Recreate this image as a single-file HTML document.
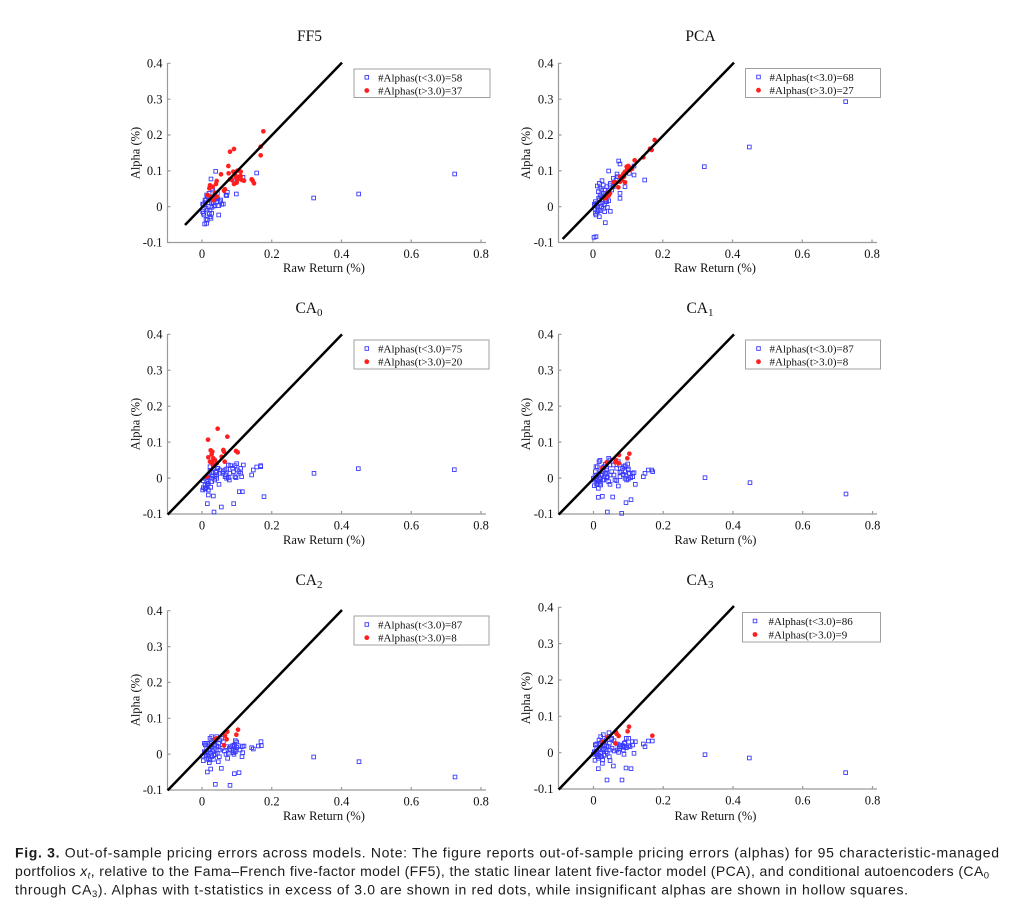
<!DOCTYPE html>
<html><head><meta charset="utf-8"><style>
html,body{margin:0;padding:0;background:#fff;}
svg{display:block;}
.t{font-family:"Liberation Serif",serif;fill:#111;}
.cap{font-family:"Liberation Sans",sans-serif;font-size:14px;fill:#1a1a1a;}
</style></head><body>
<svg width="1027" height="910" viewBox="0 0 1027 910" xmlns="http://www.w3.org/2000/svg">
<defs>
<rect id="q" x="-5.5" y="-5.5" width="11" height="11" fill="none" stroke="#3a3aff" stroke-width="2.7"/>
<circle id="d" r="7" fill="#ff1f1f"/>
</defs>
<rect width="1027" height="910" fill="#fff"/>

<!-- ============ PANEL 1 FF5 ============ -->
<g stroke="#9a9a9a" stroke-width="1.2" fill="none">
<path d="M167.5 63 V242.5 H486"/>
<path d="M167.5 63.3h3M167.5 99.2h3M167.5 135h3M167.5 170.9h3M167.5 206.7h3"/>
<path d="M202 242.5v-3M271.75 242.5v-3M341.5 242.5v-3M411.25 242.5v-3M481 242.5v-3"/>
</g>
<g class="t" font-size="12.5" text-anchor="end">
<text x="162.5" y="67.5">0.4</text><text x="162.5" y="103.4">0.3</text><text x="162.5" y="139.2">0.2</text><text x="162.5" y="175.1">0.1</text><text x="162.5" y="210.9">0</text><text x="162.5" y="246.7">-0.1</text>
</g>
<g class="t" font-size="12.5" text-anchor="middle">
<text x="202" y="258">0</text><text x="271.75" y="258">0.2</text><text x="341.5" y="258">0.4</text><text x="411.25" y="258">0.6</text><text x="481" y="258">0.8</text>
<text x="324" y="272">Raw Return (%)</text>
<text transform="translate(139.5 153) rotate(-90)">Alpha (%)</text>
<text x="309.5" y="41" font-size="15.5">FF5</text>
</g>
<g transform="translate(120 20) scale(0.33333)">
<use href="#q" x="287" y="454"/><use href="#q" x="273" y="477"/><use href="#q" x="410" y="459"/><use href="#q" x="349" y="522"/><use href="#q" x="322" y="517"/><use href="#q" x="581" y="534"/><use href="#q" x="716" y="522"/><use href="#q" x="1004" y="462"/><use href="#q" x="293" y="536"/><use href="#q" x="280" y="548"/><use href="#q" x="270" y="540"/><use href="#q" x="262" y="530"/><use href="#q" x="260" y="525"/><use href="#q" x="255" y="548"/><use href="#q" x="250" y="555"/><use href="#q" x="248" y="575"/><use href="#q" x="252" y="585"/><use href="#q" x="258" y="598"/><use href="#q" x="254" y="612"/><use href="#q" x="262" y="600"/><use href="#q" x="270" y="590"/><use href="#q" x="275" y="580"/><use href="#q" x="273" y="595"/><use href="#q" x="265" y="560"/><use href="#q" x="282" y="558"/><use href="#q" x="276" y="562"/><use href="#q" x="285" y="557"/><use href="#q" x="296" y="557"/><use href="#q" x="296" y="585"/><use href="#q" x="305" y="553"/><use href="#q" x="310" y="552"/><use href="#q" x="318" y="525"/><use href="#q" x="258" y="565"/><use href="#q" x="250" y="580"/><use href="#q" x="262" y="570"/><use href="#q" x="270" y="570"/><use href="#q" x="283" y="540"/><use href="#q" x="290" y="545"/><use href="#q" x="285" y="525"/><use href="#q" x="278" y="510"/><use href="#q" x="267" y="520"/><use href="#q" x="248" y="552"/><use href="#q" x="255" y="540"/><use href="#q" x="300" y="545"/><use href="#q" x="292" y="520"/><use href="#q" x="264" y="548"/><use href="#q" x="280" y="530"/><use href="#q" x="320" y="527"/><use href="#q" x="369" y="472"/><use href="#q" x="340" y="480"/><use href="#q" x="276" y="505"/><use href="#q" x="268" y="582"/><use href="#q" x="260" y="610"/><use href="#q" x="289" y="532"/><use href="#q" x="302" y="540"/><use href="#q" x="258" y="540"/><use href="#q" x="275" y="547"/><use href="#q" x="266" y="535"/>
<use href="#d" x="430" y="334"/><use href="#d" x="422" y="380"/><use href="#d" x="422" y="406"/><use href="#d" x="342" y="387"/><use href="#d" x="330" y="395"/><use href="#d" x="325" y="438"/><use href="#d" x="303" y="463"/><use href="#d" x="290" y="483"/><use href="#d" x="288" y="492"/><use href="#d" x="270" y="496"/><use href="#d" x="268" y="505"/><use href="#d" x="285" y="518"/><use href="#d" x="263" y="525"/><use href="#d" x="272" y="530"/><use href="#d" x="280" y="540"/><use href="#d" x="290" y="530"/><use href="#d" x="315" y="508"/><use href="#d" x="312" y="512"/><use href="#d" x="330" y="478"/><use href="#d" x="326" y="460"/><use href="#d" x="340" y="455"/><use href="#d" x="345" y="464"/><use href="#d" x="348" y="472"/><use href="#d" x="353" y="479"/><use href="#d" x="350" y="488"/><use href="#d" x="342" y="492"/><use href="#d" x="357" y="470"/><use href="#d" x="362" y="455"/><use href="#d" x="362" y="468"/><use href="#d" x="366" y="480"/><use href="#d" x="372" y="482"/><use href="#d" x="352" y="452"/><use href="#d" x="398" y="482"/><use href="#d" x="402" y="490"/><use href="#d" x="395" y="478"/><use href="#d" x="336" y="480"/><use href="#d" x="278" y="500"/>
<path d="M195 615 L666 128" stroke="#000" stroke-width="7.5"/>
</g>
<rect x="354" y="69" width="136" height="28.5" fill="#fff" stroke="#a0a0a0" stroke-width="1"/>
<rect x="365" y="75.5" width="3.6" height="3.6" fill="none" stroke="#3a3aff" stroke-width="0.9"/>
<circle cx="366.8" cy="90.5" r="2.4" fill="#ff1f1f"/>
<g class="t" font-size="11"><text x="378" y="81.3">#Alphas(t&lt;3.0)=58</text><text x="378" y="94.3">#Alphas(t&gt;3.0)=37</text></g>

<!-- ============ PANEL 2 PCA ============ -->
<g stroke="#9a9a9a" stroke-width="1.2" fill="none">
<path d="M558.5 63 V242.5 H877"/>
<path d="M558.5 63.3h3M558.5 99.2h3M558.5 135h3M558.5 170.9h3M558.5 206.7h3"/>
<path d="M593 242.5v-3M662.75 242.5v-3M732.5 242.5v-3M802.25 242.5v-3M872 242.5v-3"/>
</g>
<g class="t" font-size="12.5" text-anchor="end">
<text x="553.5" y="67.5">0.4</text><text x="553.5" y="103.4">0.3</text><text x="553.5" y="139.2">0.2</text><text x="553.5" y="175.1">0.1</text><text x="553.5" y="210.9">0</text><text x="553.5" y="246.7">-0.1</text>
</g>
<g class="t" font-size="12.5" text-anchor="middle">
<text x="593" y="258">0</text><text x="662.75" y="258">0.2</text><text x="732.5" y="258">0.4</text><text x="802.25" y="258">0.6</text><text x="872" y="258">0.8</text>
<text x="715" y="272">Raw Return (%)</text>
<text transform="translate(530 153) rotate(-90)">Alpha (%)</text>
<text x="700.5" y="41" font-size="15.5">PCA</text>
</g>
<g transform="translate(510 20) scale(0.33333)">
<use href="#q" x="1007" y="245"/><use href="#q" x="718" y="381"/><use href="#q" x="583" y="440"/><use href="#q" x="404" y="480"/><use href="#q" x="372" y="465"/><use href="#q" x="326" y="423"/><use href="#q" x="330" y="432"/><use href="#q" x="296" y="453"/><use href="#q" x="330" y="520"/><use href="#q" x="330" y="535"/><use href="#q" x="321" y="462"/><use href="#q" x="313" y="487"/><use href="#q" x="310" y="500"/><use href="#q" x="305" y="510"/><use href="#q" x="276" y="482"/><use href="#q" x="268" y="490"/><use href="#q" x="262" y="498"/><use href="#q" x="275" y="510"/><use href="#q" x="280" y="520"/><use href="#q" x="285" y="510"/><use href="#q" x="290" y="500"/><use href="#q" x="278" y="530"/><use href="#q" x="270" y="525"/><use href="#q" x="268" y="540"/><use href="#q" x="260" y="550"/><use href="#q" x="255" y="555"/><use href="#q" x="262" y="560"/><use href="#q" x="270" y="548"/><use href="#q" x="276" y="550"/><use href="#q" x="283" y="555"/><use href="#q" x="290" y="545"/><use href="#q" x="296" y="542"/><use href="#q" x="292" y="562"/><use href="#q" x="284" y="575"/><use href="#q" x="270" y="572"/><use href="#q" x="255" y="565"/><use href="#q" x="258" y="585"/><use href="#q" x="262" y="575"/><use href="#q" x="268" y="590"/><use href="#q" x="301" y="574"/><use href="#q" x="286" y="608"/><use href="#q" x="252" y="652"/><use href="#q" x="258" y="650"/><use href="#q" x="256" y="580"/><use href="#q" x="265" y="570"/><use href="#q" x="275" y="560"/><use href="#q" x="286" y="540"/><use href="#q" x="294" y="515"/><use href="#q" x="301" y="490"/><use href="#q" x="310" y="475"/><use href="#q" x="318" y="480"/><use href="#q" x="323" y="470"/><use href="#q" x="345" y="500"/><use href="#q" x="365" y="445"/><use href="#q" x="372" y="438"/><use href="#q" x="358" y="460"/><use href="#q" x="285" y="525"/><use href="#q" x="287" y="545"/><use href="#q" x="280" y="565"/><use href="#q" x="266" y="535"/><use href="#q" x="256" y="545"/><use href="#q" x="253" y="553"/><use href="#q" x="259" y="558"/><use href="#q" x="273" y="530"/><use href="#q" x="300" y="495"/><use href="#q" x="280" y="495"/><use href="#q" x="270" y="505"/><use href="#q" x="265" y="515"/>
<use href="#d" x="434" y="360"/><use href="#d" x="425" y="390"/><use href="#d" x="420" y="386"/><use href="#d" x="400" y="412"/><use href="#d" x="374" y="421"/><use href="#d" x="355" y="438"/><use href="#d" x="352" y="446"/><use href="#d" x="352" y="452"/><use href="#d" x="345" y="455"/><use href="#d" x="360" y="450"/><use href="#d" x="366" y="446"/><use href="#d" x="340" y="462"/><use href="#d" x="330" y="470"/><use href="#d" x="336" y="480"/><use href="#d" x="345" y="487"/><use href="#d" x="325" y="502"/><use href="#d" x="318" y="488"/><use href="#d" x="312" y="487"/><use href="#d" x="300" y="520"/><use href="#d" x="296" y="527"/><use href="#d" x="290" y="530"/><use href="#d" x="286" y="535"/><use href="#d" x="295" y="518"/><use href="#d" x="350" y="440"/><use href="#d" x="358" y="442"/><use href="#d" x="342" y="470"/><use href="#d" x="330" y="485"/>
<path d="M158 657 L672 128" stroke="#000" stroke-width="7.5"/>
</g>
<rect x="745.5" y="68.5" width="135" height="29" fill="#fff" stroke="#a0a0a0" stroke-width="1"/>
<rect x="756.7" y="75.2" width="3.6" height="3.6" fill="none" stroke="#3a3aff" stroke-width="0.9"/>
<circle cx="758.5" cy="90.2" r="2.4" fill="#ff1f1f"/>
<g class="t" font-size="11"><text x="769.5" y="81">#Alphas(t&lt;3.0)=68</text><text x="769.5" y="94">#Alphas(t&gt;3.0)=27</text></g>

<!-- ============ PANEL 3 CA0 ============ -->
<g stroke="#9a9a9a" stroke-width="1.2" fill="none">
<path d="M167.5 334 V514 H486"/>
<path d="M167.5 334.3h3M167.5 370.2h3M167.5 406.2h3M167.5 442.1h3M167.5 478.1h3"/>
<path d="M202 514v-3M271.75 514v-3M341.5 514v-3M411.25 514v-3M481 514v-3"/>
</g>
<g class="t" font-size="12.5" text-anchor="end">
<text x="162.5" y="338.5">0.4</text><text x="162.5" y="374.4">0.3</text><text x="162.5" y="410.4">0.2</text><text x="162.5" y="446.3">0.1</text><text x="162.5" y="482.3">0</text><text x="162.5" y="518.2">-0.1</text>
</g>
<g class="t" font-size="12.5" text-anchor="middle">
<text x="202" y="529.5">0</text><text x="271.75" y="529.5">0.2</text><text x="341.5" y="529.5">0.4</text><text x="411.25" y="529.5">0.6</text><text x="481" y="529.5">0.8</text>
<text x="324" y="544">Raw Return (%)</text>
<text transform="translate(139.5 424) rotate(-90)">Alpha (%)</text>
<text x="309" y="313" font-size="15.5">CA<tspan font-size="11" dy="3">0</tspan></text>
</g>
<g transform="translate(120 295) scale(0.33333)">
<use href="#q" x="1003" y="524"/><use href="#q" x="715" y="521"/><use href="#q" x="582" y="535"/><use href="#q" x="432" y="605"/><use href="#q" x="367" y="590"/><use href="#q" x="358" y="590"/><use href="#q" x="341" y="626"/><use href="#q" x="304" y="636"/><use href="#q" x="282" y="651"/><use href="#q" x="262" y="626"/><use href="#q" x="265" y="600"/><use href="#q" x="280" y="603"/><use href="#q" x="258" y="578"/><use href="#q" x="250" y="578"/><use href="#q" x="255" y="570"/><use href="#q" x="262" y="567"/><use href="#q" x="272" y="577"/><use href="#q" x="265" y="585"/><use href="#q" x="297" y="568"/><use href="#q" x="275" y="550"/><use href="#q" x="285" y="545"/><use href="#q" x="290" y="540"/><use href="#q" x="290" y="528"/><use href="#q" x="280" y="520"/><use href="#q" x="270" y="515"/><use href="#q" x="275" y="533"/><use href="#q" x="300" y="535"/><use href="#q" x="315" y="525"/><use href="#q" x="320" y="522"/><use href="#q" x="325" y="510"/><use href="#q" x="345" y="512"/><use href="#q" x="350" y="506"/><use href="#q" x="370" y="510"/><use href="#q" x="362" y="520"/><use href="#q" x="352" y="525"/><use href="#q" x="340" y="530"/><use href="#q" x="345" y="545"/><use href="#q" x="348" y="548"/><use href="#q" x="330" y="535"/><use href="#q" x="328" y="555"/><use href="#q" x="320" y="550"/><use href="#q" x="315" y="545"/><use href="#q" x="308" y="535"/><use href="#q" x="400" y="525"/><use href="#q" x="410" y="516"/><use href="#q" x="422" y="512"/><use href="#q" x="422" y="515"/><use href="#q" x="395" y="540"/><use href="#q" x="362" y="535"/><use href="#q" x="262" y="545"/><use href="#q" x="255" y="550"/><use href="#q" x="268" y="548"/><use href="#q" x="250" y="557"/><use href="#q" x="260" y="560"/><use href="#q" x="275" y="560"/><use href="#q" x="284" y="555"/><use href="#q" x="290" y="550"/><use href="#q" x="294" y="520"/><use href="#q" x="310" y="530"/><use href="#q" x="317" y="540"/><use href="#q" x="332" y="512"/><use href="#q" x="338" y="520"/><use href="#q" x="278" y="542"/><use href="#q" x="287" y="532"/><use href="#q" x="292" y="520"/><use href="#q" x="270" y="528"/><use href="#q" x="265" y="565"/><use href="#q" x="255" y="580"/><use href="#q" x="248" y="585"/><use href="#q" x="256" y="582"/><use href="#q" x="262" y="572"/><use href="#q" x="300" y="525"/><use href="#q" x="325" y="548"/><use href="#q" x="365" y="545"/><use href="#q" x="357" y="530"/>
<use href="#d" x="293" y="401"/><use href="#d" x="264" y="434"/><use href="#d" x="322" y="425"/><use href="#d" x="272" y="466"/><use href="#d" x="277" y="470"/><use href="#d" x="275" y="478"/><use href="#d" x="280" y="490"/><use href="#d" x="275" y="500"/><use href="#d" x="285" y="495"/><use href="#d" x="290" y="505"/><use href="#d" x="265" y="487"/><use href="#d" x="270" y="500"/><use href="#d" x="278" y="508"/><use href="#d" x="305" y="485"/><use href="#d" x="312" y="470"/><use href="#d" x="310" y="465"/><use href="#d" x="348" y="468"/><use href="#d" x="353" y="472"/><use href="#d" x="314" y="500"/><use href="#d" x="260" y="545"/>
<path d="M143 659 L666 118" stroke="#000" stroke-width="7.5"/>
</g>
<rect x="354" y="340" width="135" height="29" fill="#fff" stroke="#a0a0a0" stroke-width="1"/>
<rect x="365" y="346.7" width="3.6" height="3.6" fill="none" stroke="#3a3aff" stroke-width="0.9"/>
<circle cx="366.8" cy="361.7" r="2.4" fill="#ff1f1f"/>
<g class="t" font-size="11"><text x="378" y="352.5">#Alphas(t&lt;3.0)=75</text><text x="378" y="365.5">#Alphas(t&gt;3.0)=20</text></g>

<!-- ============ PANEL 4 CA1 ============ -->
<g stroke="#9a9a9a" stroke-width="1.2" fill="none">
<path d="M558.5 334 V514 H877"/>
<path d="M558.5 334.3h3M558.5 370.2h3M558.5 406.2h3M558.5 442.1h3M558.5 478.1h3"/>
<path d="M593.5 514v-3M663.2 514v-3M733 514v-3M802.7 514v-3M872.5 514v-3"/>
</g>
<g class="t" font-size="12.5" text-anchor="end">
<text x="553.5" y="338.5">0.4</text><text x="553.5" y="374.4">0.3</text><text x="553.5" y="410.4">0.2</text><text x="553.5" y="446.3">0.1</text><text x="553.5" y="482.3">0</text><text x="553.5" y="518.2">-0.1</text>
</g>
<g class="t" font-size="12.5" text-anchor="middle">
<text x="593.5" y="529.5">0</text><text x="663.2" y="529.5">0.2</text><text x="733" y="529.5">0.4</text><text x="802.7" y="529.5">0.6</text><text x="872.5" y="529.5">0.8</text>
<text x="715.5" y="544">Raw Return (%)</text>
<text transform="translate(530 424) rotate(-90)">Alpha (%)</text>
<text x="700" y="313" font-size="15.5">CA<tspan font-size="11" dy="3">1</tspan></text>
</g>
<g transform="translate(510 295) scale(0.33333)">
<use href="#q" x="1008" y="597"/><use href="#q" x="720" y="563"/><use href="#q" x="585" y="548"/><use href="#q" x="335" y="655"/><use href="#q" x="292" y="651"/><use href="#q" x="363" y="614"/><use href="#q" x="348" y="623"/><use href="#q" x="308" y="606"/><use href="#q" x="265" y="607"/><use href="#q" x="277" y="604"/><use href="#q" x="265" y="580"/><use href="#q" x="253" y="572"/><use href="#q" x="260" y="568"/><use href="#q" x="270" y="565"/><use href="#q" x="281" y="555"/><use href="#q" x="292" y="545"/><use href="#q" x="300" y="568"/><use href="#q" x="285" y="535"/><use href="#q" x="280" y="530"/><use href="#q" x="278" y="518"/><use href="#q" x="270" y="496"/><use href="#q" x="267" y="500"/><use href="#q" x="262" y="515"/><use href="#q" x="258" y="515"/><use href="#q" x="296" y="490"/><use href="#q" x="300" y="510"/><use href="#q" x="290" y="520"/><use href="#q" x="310" y="510"/><use href="#q" x="320" y="520"/><use href="#q" x="328" y="510"/><use href="#q" x="325" y="500"/><use href="#q" x="346" y="512"/><use href="#q" x="353" y="507"/><use href="#q" x="345" y="530"/><use href="#q" x="340" y="538"/><use href="#q" x="348" y="543"/><use href="#q" x="355" y="552"/><use href="#q" x="362" y="548"/><use href="#q" x="350" y="555"/><use href="#q" x="330" y="545"/><use href="#q" x="320" y="557"/><use href="#q" x="325" y="573"/><use href="#q" x="315" y="555"/><use href="#q" x="367" y="535"/><use href="#q" x="372" y="533"/><use href="#q" x="376" y="568"/><use href="#q" x="400" y="545"/><use href="#q" x="405" y="535"/><use href="#q" x="415" y="525"/><use href="#q" x="425" y="525"/><use href="#q" x="428" y="530"/><use href="#q" x="255" y="545"/><use href="#q" x="250" y="550"/><use href="#q" x="258" y="552"/><use href="#q" x="265" y="560"/><use href="#q" x="272" y="552"/><use href="#q" x="266" y="540"/><use href="#q" x="270" y="530"/><use href="#q" x="275" y="540"/><use href="#q" x="283" y="545"/><use href="#q" x="288" y="535"/><use href="#q" x="290" y="525"/><use href="#q" x="278" y="555"/><use href="#q" x="268" y="548"/><use href="#q" x="252" y="555"/><use href="#q" x="260" y="540"/><use href="#q" x="300" y="540"/><use href="#q" x="305" y="530"/><use href="#q" x="312" y="540"/><use href="#q" x="335" y="530"/><use href="#q" x="338" y="520"/><use href="#q" x="355" y="522"/><use href="#q" x="358" y="535"/><use href="#q" x="290" y="548"/><use href="#q" x="296" y="560"/><use href="#q" x="272" y="570"/><use href="#q" x="262" y="555"/><use href="#q" x="256" y="530"/><use href="#q" x="282" y="515"/><use href="#q" x="286" y="508"/><use href="#q" x="300" y="495"/><use href="#q" x="330" y="532"/><use href="#q" x="345" y="550"/><use href="#q" x="355" y="525"/><use href="#q" x="342" y="515"/><use href="#q" x="368" y="545"/><use href="#q" x="262" y="565"/>
<use href="#d" x="358" y="476"/><use href="#d" x="352" y="490"/><use href="#d" x="327" y="480"/><use href="#d" x="318" y="495"/><use href="#d" x="316" y="502"/><use href="#d" x="326" y="505"/><use href="#d" x="290" y="502"/><use href="#d" x="277" y="520"/>
<path d="M146 659 L672 118" stroke="#000" stroke-width="7.5"/>
</g>
<rect x="745.5" y="340" width="135" height="29" fill="#fff" stroke="#a0a0a0" stroke-width="1"/>
<rect x="756.7" y="346.7" width="3.6" height="3.6" fill="none" stroke="#3a3aff" stroke-width="0.9"/>
<circle cx="758.5" cy="361.7" r="2.4" fill="#ff1f1f"/>
<g class="t" font-size="11"><text x="769.5" y="352.5">#Alphas(t&lt;3.0)=87</text><text x="769.5" y="365.5">#Alphas(t&gt;3.0)=8</text></g>

<!-- ============ PANEL 5 CA2 ============ -->
<g stroke="#9a9a9a" stroke-width="1.2" fill="none">
<path d="M167.5 610.5 V790 H486"/>
<path d="M167.5 610.7h3M167.5 646.6h3M167.5 682.4h3M167.5 718.3h3M167.5 754.1h3"/>
<path d="M202 790v-3M271.75 790v-3M341.5 790v-3M411.25 790v-3M481 790v-3"/>
</g>
<g class="t" font-size="12.5" text-anchor="end">
<text x="162.5" y="614.9">0.4</text><text x="162.5" y="650.8">0.3</text><text x="162.5" y="686.6">0.2</text><text x="162.5" y="722.5">0.1</text><text x="162.5" y="758.3">0</text><text x="162.5" y="794.2">-0.1</text>
</g>
<g class="t" font-size="12.5" text-anchor="middle">
<text x="202" y="805.5">0</text><text x="271.75" y="805.5">0.2</text><text x="341.5" y="805.5">0.4</text><text x="411.25" y="805.5">0.6</text><text x="481" y="805.5">0.8</text>
<text x="324" y="820">Raw Return (%)</text>
<text transform="translate(139.5 700) rotate(-90)">Alpha (%)</text>
<text x="309" y="585" font-size="15.5">CA<tspan font-size="11" dy="3">2</tspan></text>
</g>
<g transform="translate(120 570) scale(0.33333)">
<use href="#q" x="1005" y="621"/><use href="#q" x="717" y="575"/><use href="#q" x="581" y="561"/><use href="#q" x="330" y="646"/><use href="#q" x="286" y="643"/><use href="#q" x="357" y="608"/><use href="#q" x="343" y="611"/><use href="#q" x="304" y="595"/><use href="#q" x="272" y="597"/><use href="#q" x="262" y="606"/><use href="#q" x="268" y="578"/><use href="#q" x="250" y="572"/><use href="#q" x="260" y="568"/><use href="#q" x="270" y="570"/><use href="#q" x="280" y="568"/><use href="#q" x="295" y="575"/><use href="#q" x="286" y="553"/><use href="#q" x="278" y="545"/><use href="#q" x="275" y="530"/><use href="#q" x="275" y="500"/><use href="#q" x="270" y="505"/><use href="#q" x="263" y="520"/><use href="#q" x="258" y="520"/><use href="#q" x="253" y="520"/><use href="#q" x="290" y="500"/><use href="#q" x="300" y="510"/><use href="#q" x="296" y="520"/><use href="#q" x="310" y="515"/><use href="#q" x="320" y="530"/><use href="#q" x="330" y="540"/><use href="#q" x="345" y="540"/><use href="#q" x="346" y="512"/><use href="#q" x="350" y="516"/><use href="#q" x="342" y="530"/><use href="#q" x="340" y="548"/><use href="#q" x="346" y="545"/><use href="#q" x="325" y="550"/><use href="#q" x="318" y="553"/><use href="#q" x="323" y="565"/><use href="#q" x="367" y="530"/><use href="#q" x="372" y="528"/><use href="#q" x="366" y="560"/><use href="#q" x="395" y="533"/><use href="#q" x="400" y="537"/><use href="#q" x="415" y="528"/><use href="#q" x="424" y="527"/><use href="#q" x="423" y="515"/><use href="#q" x="255" y="548"/><use href="#q" x="248" y="558"/><use href="#q" x="258" y="555"/><use href="#q" x="266" y="558"/><use href="#q" x="272" y="550"/><use href="#q" x="266" y="540"/><use href="#q" x="270" y="535"/><use href="#q" x="280" y="540"/><use href="#q" x="285" y="535"/><use href="#q" x="290" y="528"/><use href="#q" x="282" y="555"/><use href="#q" x="265" y="565"/><use href="#q" x="253" y="545"/><use href="#q" x="260" y="535"/><use href="#q" x="300" y="540"/><use href="#q" x="306" y="535"/><use href="#q" x="313" y="543"/><use href="#q" x="333" y="530"/><use href="#q" x="338" y="527"/><use href="#q" x="355" y="527"/><use href="#q" x="360" y="540"/><use href="#q" x="292" y="550"/><use href="#q" x="298" y="560"/><use href="#q" x="275" y="560"/><use href="#q" x="262" y="550"/><use href="#q" x="256" y="525"/><use href="#q" x="282" y="515"/><use href="#q" x="288" y="510"/><use href="#q" x="305" y="505"/><use href="#q" x="328" y="535"/><use href="#q" x="342" y="553"/><use href="#q" x="350" y="532"/><use href="#q" x="343" y="525"/><use href="#q" x="368" y="548"/><use href="#q" x="260" y="545"/><use href="#q" x="275" y="515"/><use href="#q" x="270" y="520"/><use href="#q" x="283" y="525"/><use href="#q" x="295" y="530"/>
<use href="#d" x="354" y="479"/><use href="#d" x="349" y="494"/><use href="#d" x="322" y="485"/><use href="#d" x="315" y="497"/><use href="#d" x="320" y="508"/><use href="#d" x="290" y="505"/><use href="#d" x="285" y="508"/><use href="#d" x="312" y="526"/>
<path d="M143 661 L666 120" stroke="#000" stroke-width="7.5"/>
</g>
<rect x="354" y="616" width="135" height="29" fill="#fff" stroke="#a0a0a0" stroke-width="1"/>
<rect x="365" y="622.7" width="3.6" height="3.6" fill="none" stroke="#3a3aff" stroke-width="0.9"/>
<circle cx="366.8" cy="637.7" r="2.4" fill="#ff1f1f"/>
<g class="t" font-size="11"><text x="378" y="628.5">#Alphas(t&lt;3.0)=87</text><text x="378" y="641.5">#Alphas(t&gt;3.0)=8</text></g>

<!-- ============ PANEL 6 CA3 ============ -->
<g stroke="#9a9a9a" stroke-width="1.2" fill="none">
<path d="M558.5 607 V789 H877"/>
<path d="M558.5 607.3h3M558.5 643.6h3M558.5 680h3M558.5 716.3h3M558.5 752.7h3"/>
<path d="M593.5 789v-3M663.2 789v-3M733 789v-3M802.7 789v-3M872.5 789v-3"/>
</g>
<g class="t" font-size="12.5" text-anchor="end">
<text x="553.5" y="611.5">0.4</text><text x="553.5" y="647.8">0.3</text><text x="553.5" y="684.2">0.2</text><text x="553.5" y="720.5">0.1</text><text x="553.5" y="756.9">0</text><text x="553.5" y="793.2">-0.1</text>
</g>
<g class="t" font-size="12.5" text-anchor="middle">
<text x="593.5" y="804.5">0</text><text x="663.2" y="804.5">0.2</text><text x="733" y="804.5">0.4</text><text x="802.7" y="804.5">0.6</text><text x="872.5" y="804.5">0.8</text>
<text x="715.5" y="820">Raw Return (%)</text>
<text transform="translate(530 698) rotate(-90)">Alpha (%)</text>
<text x="700" y="585" font-size="15.5">CA<tspan font-size="11" dy="3">3</tspan></text>
</g>
<g transform="translate(510 570) scale(0.33333)">
<use href="#q" x="1007" y="608"/><use href="#q" x="718" y="564"/><use href="#q" x="585" y="554"/><use href="#q" x="336" y="630"/><use href="#q" x="291" y="630"/><use href="#q" x="363" y="596"/><use href="#q" x="348" y="594"/><use href="#q" x="310" y="588"/><use href="#q" x="265" y="596"/><use href="#q" x="277" y="580"/><use href="#q" x="278" y="570"/><use href="#q" x="255" y="571"/><use href="#q" x="262" y="560"/><use href="#q" x="270" y="560"/><use href="#q" x="283" y="556"/><use href="#q" x="300" y="572"/><use href="#q" x="288" y="545"/><use href="#q" x="280" y="538"/><use href="#q" x="278" y="520"/><use href="#q" x="280" y="494"/><use href="#q" x="272" y="500"/><use href="#q" x="267" y="510"/><use href="#q" x="260" y="522"/><use href="#q" x="256" y="524"/><use href="#q" x="297" y="488"/><use href="#q" x="305" y="508"/><use href="#q" x="298" y="520"/><use href="#q" x="312" y="512"/><use href="#q" x="322" y="522"/><use href="#q" x="330" y="525"/><use href="#q" x="345" y="518"/><use href="#q" x="349" y="505"/><use href="#q" x="356" y="505"/><use href="#q" x="342" y="532"/><use href="#q" x="340" y="540"/><use href="#q" x="348" y="533"/><use href="#q" x="328" y="530"/><use href="#q" x="321" y="540"/><use href="#q" x="326" y="547"/><use href="#q" x="367" y="515"/><use href="#q" x="376" y="515"/><use href="#q" x="372" y="550"/><use href="#q" x="400" y="522"/><use href="#q" x="405" y="530"/><use href="#q" x="415" y="513"/><use href="#q" x="427" y="513"/><use href="#q" x="254" y="548"/><use href="#q" x="250" y="553"/><use href="#q" x="258" y="552"/><use href="#q" x="266" y="556"/><use href="#q" x="272" y="548"/><use href="#q" x="266" y="540"/><use href="#q" x="270" y="535"/><use href="#q" x="280" y="540"/><use href="#q" x="285" y="535"/><use href="#q" x="290" y="528"/><use href="#q" x="282" y="555"/><use href="#q" x="265" y="565"/><use href="#q" x="253" y="545"/><use href="#q" x="260" y="535"/><use href="#q" x="300" y="540"/><use href="#q" x="306" y="535"/><use href="#q" x="313" y="543"/><use href="#q" x="333" y="530"/><use href="#q" x="338" y="527"/><use href="#q" x="355" y="527"/><use href="#q" x="360" y="530"/><use href="#q" x="292" y="550"/><use href="#q" x="298" y="560"/><use href="#q" x="275" y="560"/><use href="#q" x="262" y="550"/><use href="#q" x="256" y="525"/><use href="#q" x="282" y="515"/><use href="#q" x="288" y="510"/><use href="#q" x="305" y="505"/><use href="#q" x="328" y="535"/><use href="#q" x="342" y="553"/><use href="#q" x="350" y="532"/><use href="#q" x="343" y="520"/><use href="#q" x="368" y="525"/><use href="#q" x="260" y="545"/><use href="#q" x="275" y="515"/><use href="#q" x="270" y="520"/><use href="#q" x="283" y="525"/><use href="#q" x="295" y="530"/>
<use href="#d" x="357" y="470"/><use href="#d" x="353" y="484"/><use href="#d" x="427" y="497"/><use href="#d" x="326" y="498"/><use href="#d" x="320" y="492"/><use href="#d" x="316" y="520"/><use href="#d" x="292" y="502"/><use href="#d" x="278" y="516"/><use href="#d" x="318" y="486"/>
<path d="M146 659 L672 108" stroke="#000" stroke-width="7.5"/>
</g>
<rect x="742.5" y="612.5" width="138" height="29.5" fill="#fff" stroke="#a0a0a0" stroke-width="1"/>
<rect x="753.2" y="619.2" width="3.6" height="3.6" fill="none" stroke="#3a3aff" stroke-width="0.9"/>
<circle cx="755" cy="634.5" r="2.4" fill="#ff1f1f"/>
<g class="t" font-size="11"><text x="768.5" y="625">#Alphas(t&lt;3.0)=86</text><text x="768.5" y="638.5">#Alphas(t&gt;3.0)=9</text></g>

<!-- ============ CAPTION ============ -->
<text class="cap" x="15" y="857.5" textLength="984" lengthAdjust="spacing"><tspan font-weight="bold">Fig. 3.</tspan> Out-of-sample pricing errors across models. Note: The figure reports out-of-sample pricing errors (alphas) for 95 characteristic-managed</text>
<text class="cap" x="15" y="876" textLength="974" lengthAdjust="spacing">portfolios <tspan font-style="italic">x</tspan><tspan font-style="italic" font-size="9.5" dy="2.5">t</tspan><tspan dy="-2.5">, relative to the Fama–French five-factor model (FF5), the static linear latent five-factor model (PCA), and conditional autoencoders (CA</tspan><tspan font-size="9.5" dy="2.5">0</tspan></text>
<text class="cap" x="15" y="894.5" textLength="893" lengthAdjust="spacing">through CA<tspan font-size="9.5" dy="2.5">3</tspan><tspan dy="-2.5">). Alphas with t-statistics in excess of 3.0 are shown in red dots, while insignificant alphas are shown in hollow squares.</tspan></text>
</svg>
</body></html>
